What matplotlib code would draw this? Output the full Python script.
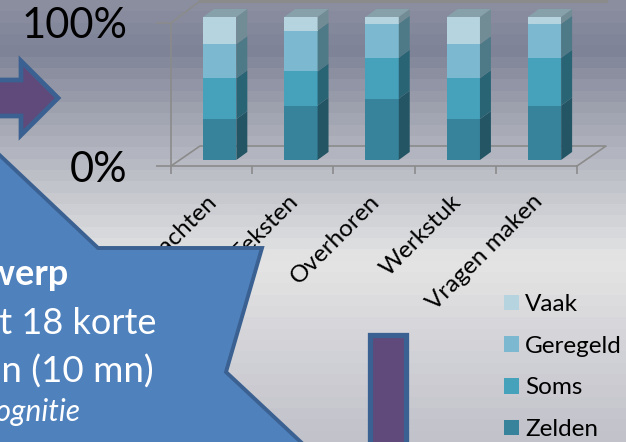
import matplotlib
matplotlib.use('Agg')
import matplotlib.pyplot as plt
from matplotlib.patches import Polygon
import numpy as np

plt.rcParams['font.family'] = ['Lato', 'DejaVu Sans']

WIDTH, HEIGHT = 626, 442

categories = ['Opdrachten', 'Teksten', 'Overhoren', 'Werkstuk', 'Vragen maken']
zelden = [28.6, 38.1, 42.9, 28.6, 38.1]
soms = [28.6, 23.8, 28.6, 28.6, 33.3]
geregeld = [23.8, 28.6, 23.8, 23.8, 23.8]
vaak = [19.0, 9.5, 4.7, 19.0, 4.8]

series_names = ['Zelden', 'Soms', 'Geregeld', 'Vaak']
front_colors = ['#37839b', '#46a1bb', '#7cb8d0', '#b5d4e0']
side_colors = ['#235565', '#296475', '#4e7a88', '#728c95']
top_color = '#87a1ab'
grid_color = '#8b8b8b'

# background stripes, (y pixel, grey-blue colour)
bg_y = [0, 50, 100, 170, 260, 330, 442]
bg_r = [140, 127, 154, 187, 229, 214, 192]
bg_g = [144, 131, 158, 189, 229, 214, 193]
bg_b = [160, 152, 171, 198, 229, 218, 201]


def px_axes(left, top, right, bottom, **kwargs):
    """Axes placed with pixel positions measured from the top left corner."""
    return plt.gcf().add_axes([left / WIDTH, 1 - bottom / HEIGHT,
                               (right - left) / WIDTH, (bottom - top) / HEIGHT], **kwargs)


def draw_background():
    ax = px_axes(0, 0, WIDTH, HEIGHT, zorder=0)
    rows = np.arange(5.5, HEIGHT, 11.3)
    stripes = np.stack([np.interp(rows, bg_y, bg_r), np.interp(rows, bg_y, bg_g),
                        np.interp(rows, bg_y, bg_b)], axis=1)[:, None, :] / 255
    ax.imshow(stripes, aspect='auto', extent=(0, WIDTH, HEIGHT, 0), interpolation='nearest')
    # back wall and floor of the 3d box
    ax.plot([171, 200, 606], [23, 1, 1], color=grid_color, lw=1.2)
    ax.plot([200, 606], [0.5, 0.5], color=grid_color, lw=2.2)
    ax.plot([171, 200, 606, 577], [166, 146, 146, 166], color=grid_color, lw=1.2)
    ax.set_xlim(0, WIDTH)
    ax.set_ylim(HEIGHT, 0)
    ax.axis('off')


def draw_chart():
    ax = px_axes(171, 23, 577, 166, zorder=1)
    ax.patch.set_alpha(0)
    ax.set_xlim(-0.5, 4.5)
    ax.set_ylim(0, 100)

    x = np.arange(len(categories)) + 0.1
    bar_width = 0.41
    lift = 4.2
    depth_x, depth_y = 0.135, 5.6

    bottom = np.full(len(categories), lift)
    handles = []
    for values, name, front, side in zip([zelden, soms, geregeld, vaak], series_names,
                                         front_colors, side_colors):
        bars = ax.bar(x, values, bar_width, bottom=bottom, color=front, label=name,
                      clip_on=False, zorder=3)
        handles.append(bars)
        for xi, b, v in zip(x, bottom, values):
            right = xi + bar_width / 2
            ax.add_patch(Polygon([(right, b), (right + depth_x, b + depth_y),
                                  (right + depth_x, b + v + depth_y), (right, b + v)],
                                 facecolor=side, edgecolor='none', clip_on=False, zorder=3))
        bottom = bottom + np.array(values)

    for xi, b in zip(x, bottom):
        left, right = xi - bar_width / 2, xi + bar_width / 2
        ax.add_patch(Polygon([(left, b), (right, b), (right + depth_x, b + depth_y),
                              (left + depth_x, b + depth_y)],
                             facecolor=top_color, edgecolor='none', clip_on=False, zorder=3))

    for side in ['top', 'right']:
        ax.spines[side].set_visible(False)
    for side in ['left', 'bottom']:
        ax.spines[side].set_color(grid_color)
        ax.spines[side].set_linewidth(1.2)

    ax.set_yticks([0, 100], ['0%', '100%'], fontsize=30)
    ax.tick_params(axis='y', length=11, width=1.2, color=grid_color, pad=20.5)
    ax.set_xticks(np.arange(-0.5, 5))
    ax.set_xticklabels([])
    ax.tick_params(axis='x', which='major', length=6, width=1.2, color=grid_color)
    ax.set_xticks(x - 0.16, minor=True)
    ax.set_xticklabels(categories, minor=True, rotation=45, ha='right',
                       rotation_mode='anchor', fontsize=17.5, color='black')
    ax.tick_params(axis='x', which='minor', length=0, pad=18)

    ax.legend(handles[::-1], series_names[::-1], loc='upper left', frameon=False,
              bbox_to_anchor=(504 / WIDTH, 1 - 294 / HEIGHT), bbox_transform=plt.gcf().transFigure,
              fontsize=17.5, handlelength=0.62, handleheight=0.62, handletextpad=0.25,
              labelspacing=0.85, borderpad=0, borderaxespad=0)


def draw_shapes():
    ax = px_axes(0, 0, WIDTH, HEIGHT, zorder=2)
    ax.patch.set_alpha(0)
    ax.set_xlim(0, WIDTH)
    ax.set_ylim(HEIGHT, 0)
    ax.axis('off')

    edge = '#3a6191'
    ax.add_patch(Polygon([(-20, 80), (21, 80), (21, 61), (58, 98), (21, 135), (21, 116), (-20, 116)],
                         facecolor='#604a7b', edgecolor=edge, lw=3.4, joinstyle='miter'))
    ax.add_patch(Polygon([(370, 335), (406, 335), (406, 460), (370, 460)],
                         facecolor='#604a7b', edgecolor=edge, lw=3.8, joinstyle='miter'))
    ax.add_patch(Polygon([(-10, 146), (98, 248), (262, 248), (226, 372), (320, 460), (-10, 460)],
                         facecolor='#4f81bd', edgecolor=edge, lw=2.8, joinstyle='miter'))

    ax.text(69, 285, 'Ontwerp', color='white', fontsize=26, fontweight='bold', ha='right',
            va='baseline')
    ax.text(156, 334, 'Toets met 18 korte', color='white', fontsize=26, ha='right', va='baseline')
    ax.text(154, 382, 'vragen (10 mn)', color='white', fontsize=26.5, ha='right', va='baseline')
    ax.text(81, 421, 'Metacognitie', color='white', fontsize=21.5, style='italic', ha='right',
            va='baseline')


if __name__ == "__main__":
    fig = plt.figure(figsize=(WIDTH / 100, HEIGHT / 100), dpi=100)
    draw_background()
    draw_chart()
    draw_shapes()
    fig.savefig('out.png', dpi=100)
